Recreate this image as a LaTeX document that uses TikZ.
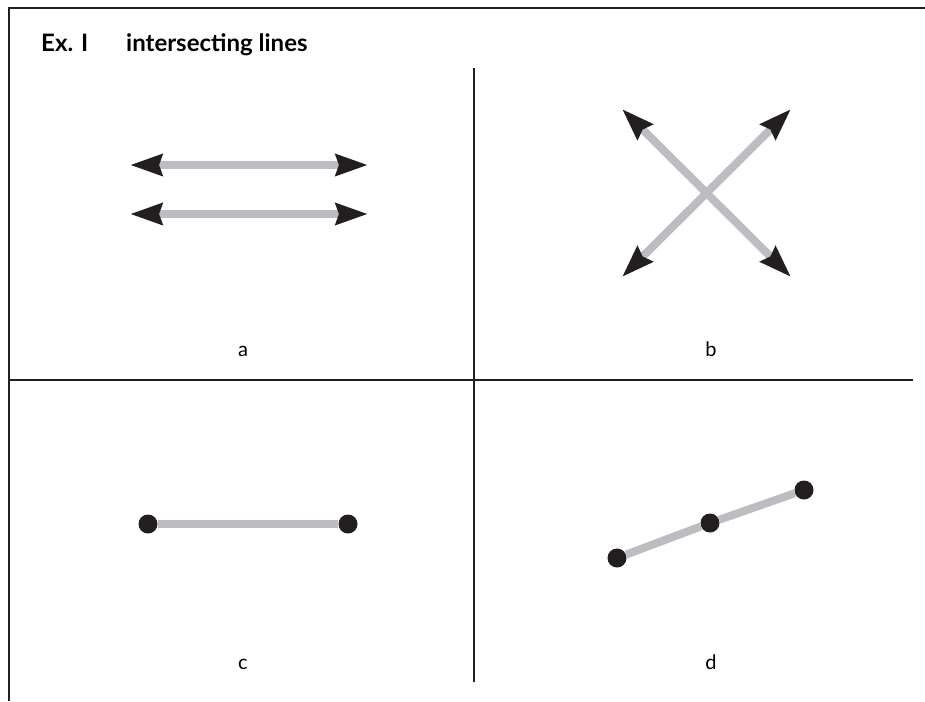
\documentclass[tikz,border=0pt]{standalone}
\usepackage{fontspec}
\setmainfont{Lato}
\usepackage{tikz}
\usetikzlibrary{arrows.meta}
\definecolor{cInk}{RGB}{35,31,32}
\definecolor{cBar}{RGB}{187,189,192}

\begin{document}
\begin{tikzpicture}[x=1pt,y=-1pt,
  bar/.style={draw=cBar,line width=8pt},
  dbl/.style={bar,arrows={Stealth[length=32pt,width=21pt,inset=3pt,color=cInk]-Stealth[length=32pt,width=21pt,inset=3pt,color=cInk]}},
  dot/.style={circle,fill=cInk,inner sep=0pt,minimum size=19pt},
  lbl/.style={anchor=base,font=\fontsize{20}{24}\selectfont},
  ttl/.style={anchor=base west,inner sep=0pt,font=\fontsize{24}{28}\selectfont\bfseries}]
\useasboundingbox (0,0) rectangle (925,701);
\draw[cInk,line width=1.5pt] (9,701) -- (9,8) -- (925,8);
\draw[cInk,line width=1.3pt] (474,68) -- (474,682);
\draw[cInk,line width=1.3pt] (9,380) -- (913,380);
\node[ttl] (ex) at (41,52) {Ex. I};
\node[ttl] (title) at (126,52) {intersecting lines};
\coordinate (a1l) at (130,165);
\coordinate (a1r) at (368,165);
\coordinate (a2l) at (130,214);
\coordinate (a2r) at (368,214);
\draw[dbl] (a1l) -- (a1r);
\draw[dbl] (a2l) -- (a2r);
\coordinate (bul) at (622,109);
\coordinate (bur) at (791,109);
\coordinate (bll) at (622,277);
\coordinate (blr) at (791,277);
\draw[dbl] (bul) -- (blr);
\draw[dbl] (bll) -- (bur);
\node[dot] (c1) at (148,524) {};
\node[dot] (c2) at (348,524) {};
\draw[bar] (c1) -- (c2);
\node[dot] (d1) at (617,558) {};
\node[dot] (d2) at (710,523) {};
\node[dot] (d3) at (804,490) {};
\draw[bar] (d1) -- (d2) -- (d3);
\node[lbl] (la) at (243,356) {a};
\node[lbl] (lb) at (711,356) {b};
\node[lbl] (lc) at (243,669) {c};
\node[lbl] (ld) at (711,669) {d};
\end{tikzpicture}
\end{document}
